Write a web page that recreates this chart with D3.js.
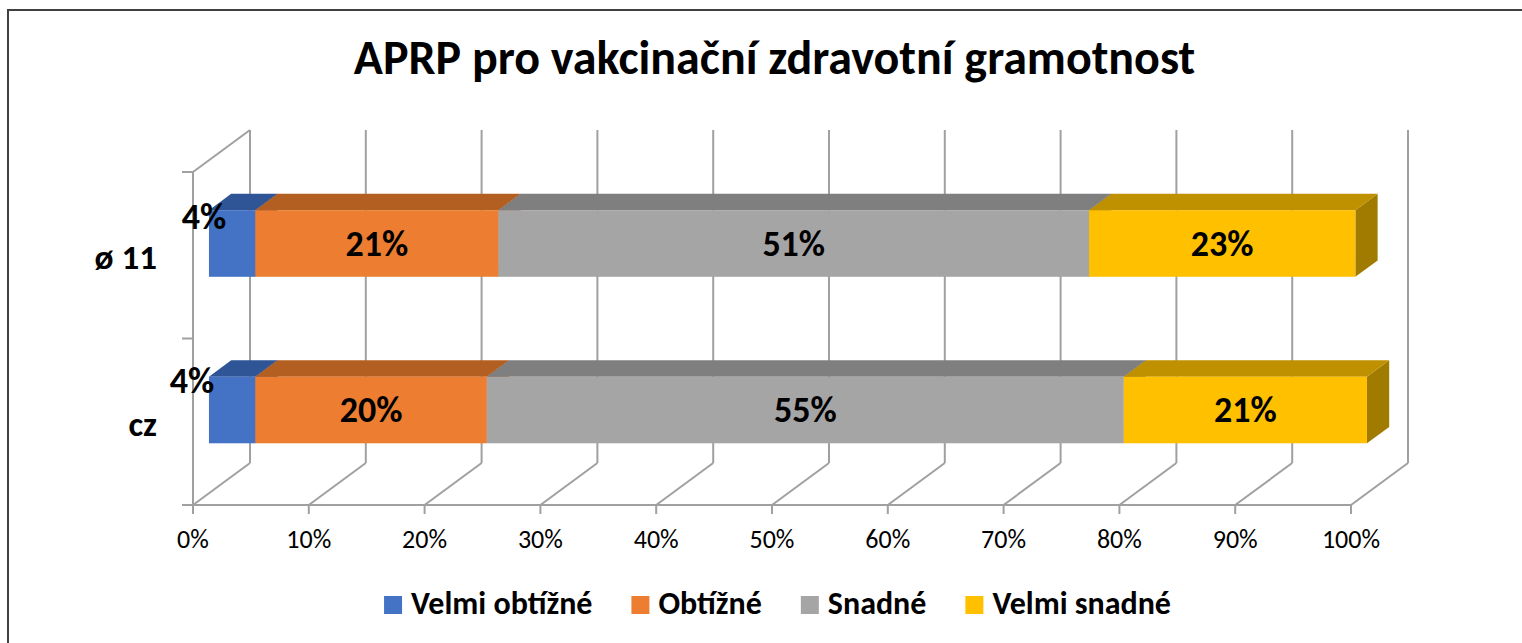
<!DOCTYPE html>
<html><head><meta charset="utf-8">
<script src="https://cdn.jsdelivr.net/npm/d3@7"></script>
<style>body{margin:0;background:#fff;} svg{display:block;font-family:Carlito,Lato,sans-serif;}</style>
</head><body>
<svg id="c" width="1522" height="643"></svg>
<script>
// ---- data ----
const title = "APRP pro vakcinační zdravotní gramotnost";
const categories = ["ø 11", "cz"];
const seriesNames = ["Velmi obtížné", "Obtížné", "Snadné", "Velmi snadné"];
const velmiObtizne = [0.04, 0.04];
const obtizne = [0.21, 0.20];
const snadne = [0.51, 0.55];
const velmiSnadne = [0.23, 0.21];
const tickValues = [0,0.1,0.2,0.3,0.4,0.5,0.6,0.7,0.8,0.9,1.0];
const frontColors = ["#4472c4","#ed7d31","#a5a5a5","#ffc000"];
const topColors = ["#2f5597","#b45f22","#7f7f7f","#bf9000"];
const sideColors = ["#264478","#9e480e","#666666","#a07b00"];

const series = [velmiObtizne, obtizne, snadne, velmiSnadne];

const svg = d3.select("#c");
// frame
svg.append("rect").attr("x",8).attr("y",10).attr("width",1600).attr("height",700)
  .attr("fill","none").attr("stroke","#404040").attr("stroke-width",2);

// scales
const x = d3.scaleLinear().domain([0,1]).range([193,1351]);
const y = d3.scaleBand().domain(categories).range([172,505]).paddingInner(0.6).paddingOuter(0.3);
const D = {dx:57, dy:-42};           // full depth vector
const f1 = 0.28, f2 = 0.67;          // bar front/back depth fractions
const off = f => ({dx: D.dx*f, dy: D.dy*f});
const o1 = off(f1), o2 = off(f2);
const floorY = y.range()[1], wallTopY = y.range()[0];
const grid = "#a0a0a0";

const g = svg.append("g");
// back wall gridlines
g.selectAll("line.bg").data(tickValues).join("line")
  .attr("x1", d=>x(d)+D.dx).attr("x2", d=>x(d)+D.dx)
  .attr("y1", wallTopY + D.dy).attr("y2", floorY + D.dy)
  .attr("stroke", grid).attr("stroke-width",2);
// floor diagonals
g.selectAll("line.fd").data(tickValues).join("line")
  .attr("x1", d=>x(d)).attr("y1", floorY)
  .attr("x2", d=>x(d)+D.dx).attr("y2", floorY + D.dy)
  .attr("stroke", grid).attr("stroke-width",2);
// front floor line + ticks
g.append("line").attr("x1",x(0)).attr("x2",x(1)).attr("y1",floorY).attr("y2",floorY)
  .attr("stroke",grid).attr("stroke-width",2);
g.selectAll("line.tk").data(tickValues).join("line")
  .attr("x1", d=>x(d)).attr("x2", d=>x(d)).attr("y1",floorY).attr("y2",floorY+9)
  .attr("stroke",grid).attr("stroke-width",2);
// left wall
g.append("line").attr("x1",x(0)).attr("x2",x(0)).attr("y1",wallTopY).attr("y2",floorY)
  .attr("stroke",grid).attr("stroke-width",2);
g.append("line").attr("x1",x(0)).attr("y1",wallTopY).attr("x2",x(0)+D.dx).attr("y2",wallTopY+D.dy)
  .attr("stroke",grid).attr("stroke-width",2);
const catTicks = [wallTopY, ...categories.map(c => y(c) - y.step()*y.paddingOuter() + y.step())];
g.selectAll("line.ct").data(catTicks).join("line")
  .attr("x1", x(0)-11).attr("x2", x(0)).attr("y1", d=>d).attr("y2", d=>d)
  .attr("stroke",grid).attr("stroke-width",2);

// stacked 3D bars
const bw = y.bandwidth();
categories.forEach((cat, ci) => {
  let acc = 0;
  series.forEach((s, si) => {
    const v = s[ci], a = acc, b = acc + v; acc = b;
    const xa = x(a) + o1.dx, xb = x(b) + o1.dx;
    const yt = y(cat) + o1.dy, yb = yt + bw;
    const ddx = o2.dx - o1.dx, ddy = o2.dy - o1.dy;
    const bar = g.append("g");
    bar.append("polygon").attr("points", [[xb,yt],[xb+ddx,yt+ddy],[xb+ddx,yb+ddy],[xb,yb]].join(" "))
      .attr("fill", sideColors[si]);
    bar.append("polygon").attr("points", [[xa,yt],[xb,yt],[xb+ddx,yt+ddy],[xa+ddx,yt+ddy]].join(" "))
      .attr("fill", topColors[si]);
    bar.append("rect").attr("x", xa).attr("y", yt).attr("width", xb-xa).attr("height", bw)
      .attr("fill", frontColors[si]);
  });
});
// labels
const smallNudge = [-5, -17];
categories.forEach((cat, ci) => {
  let acc = 0;
  series.forEach((s, si) => {
    const v = s[ci], a = acc, b = acc + v; acc = b;
    const yt = y(cat) + o1.dy;
    const t = svg.append("text").text(d3.format(".0%")(v))
      .attr("font-weight","bold").attr("font-size",36).attr("fill","#000");
    if (si === 0) {
      t.attr("x", x(a) + o1.dx + smallNudge[ci]).attr("y", yt + (ci===0?19:16.5))
       .attr("text-anchor","middle");
    } else {
      t.attr("x", (x(a)+x(b))/2 + o1.dx).attr("y", yt + bw/2 + 12.5)
       .attr("text-anchor","middle");
    }
  });
});
// category labels
svg.selectAll("text.cat").data(categories).join("text")
  .attr("x", 157).attr("y", d => y(d) + bw/2 + 14)
  .attr("text-anchor","end").attr("font-weight","bold").attr("font-size",35).text(d=>d);
// tick labels
svg.selectAll("text.tl").data(tickValues).join("text")
  .attr("x", d=>x(d)).attr("y", 548).attr("text-anchor","middle")
  .attr("font-size",26).text(d=>d3.format(".0%")(d));
// title
svg.append("text").attr("x",774.5).attr("y",74).attr("text-anchor","middle")
  .attr("font-weight","bold").attr("font-size",48).text(title);
// legend
const lg = svg.append("g");
let lx = 0;
seriesNames.forEach((n,i) => {
  const it = lg.append("g").attr("transform",`translate(${lx},0)`);
  it.append("rect").attr("x",0).attr("y",-18).attr("width",18).attr("height",18).attr("fill",frontColors[i]);
  const t = it.append("text").attr("x",27).attr("y",0).attr("font-weight","bold").attr("font-size",32).text(n);
  const w = t.node().getComputedTextLength();
  lx += 27 + w + 39;
});
const totalW = lx - 39;
lg.attr("transform",`translate(${777.5 - totalW/2},614)`);
</script>
</body></html>
